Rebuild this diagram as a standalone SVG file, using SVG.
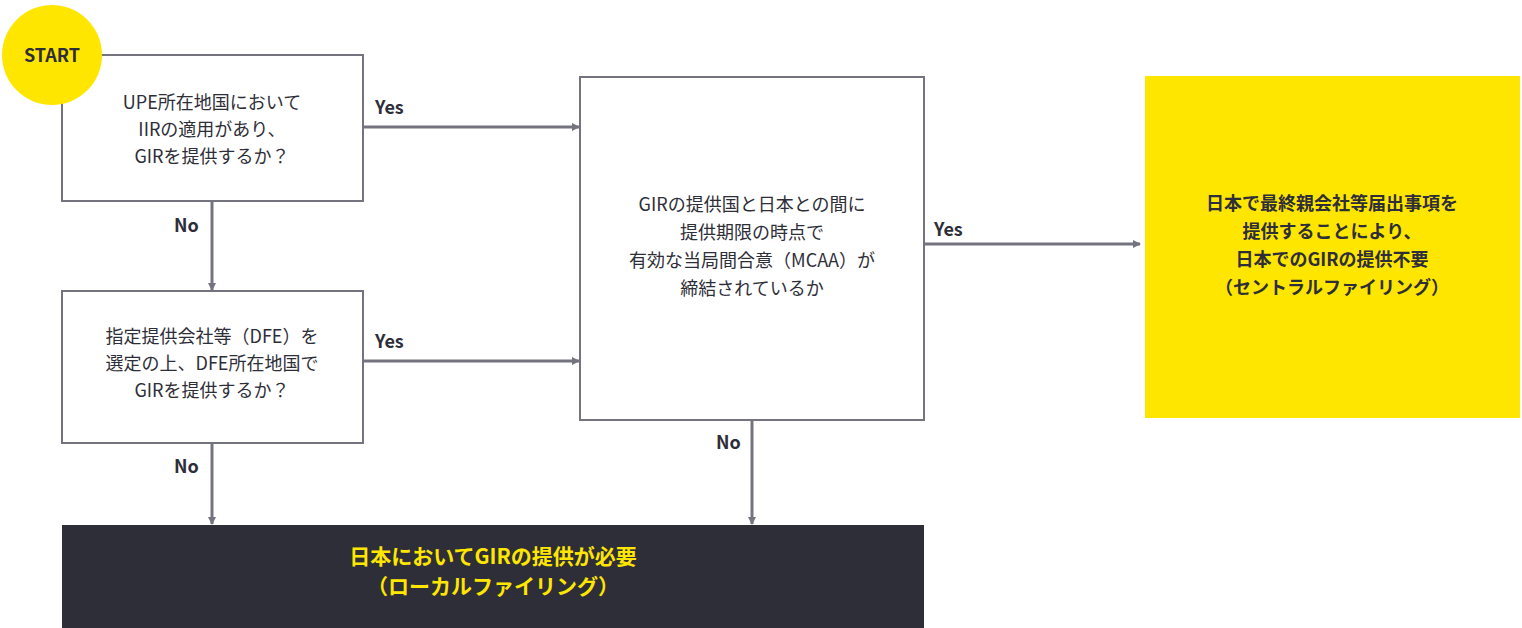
<svg xmlns="http://www.w3.org/2000/svg" width="1522" height="628" viewBox="0 0 1522 628">
<style>
text{font-family:"Noto Sans CJK JP","Noto Sans",sans-serif;font-size:18px;fill:#2e2e38;text-anchor:middle}
.b{font-weight:bold}
.box{fill:#fff;stroke:#747480;stroke-width:2}
.c{stroke:#747480;stroke-width:3;fill:none;marker-end:url(#a)}
.l{font-weight:bold;text-anchor:start}
</style>
<defs><marker id="a" markerWidth="8" markerHeight="8" refX="7" refY="4" orient="auto" markerUnits="userSpaceOnUse" viewBox="0 0 8 8"><path d="M0,0L8,4L0,8z" fill="#747480"/></marker>
</defs>
<g id="connectors">
<path class="c" d="M363,127H579"/>
<path class="c" d="M363,361H579"/>
<path class="c" d="M924,244H1140"/>
<path class="c" d="M212,201V290"/>
<path class="c" d="M212,443V524"/>
<path class="c" d="M752,420V524"/>
<text class="l" x="375" y="114">Yes</text>
<text class="l" x="375" y="348">Yes</text>
<text class="l" x="934" y="236">Yes</text>
<text class="l" x="174" y="232">No</text>
<text class="l" x="174" y="473">No</text>
<text class="l" x="716" y="449">No</text>
</g>
<g id="q1"><rect class="box" x="62" y="55" width="301" height="146"/>
<text x="212" y="109">UPE所在地国において</text><text x="212" y="136">IIRの適用があり、</text><text x="212" y="163">GIRを提供するか？</text></g>
<g id="start"><circle cx="52" cy="55" r="50" fill="#ffe600"/><text class="b" x="52" y="62">START</text></g>
<g id="q2"><rect class="box" x="62" y="291" width="301" height="152"/>
<text x="212" y="343">指定提供会社等（DFE）を</text><text x="212" y="370">選定の上、DFE所在地国で</text><text x="212" y="397">GIRを提供するか？</text></g>
<g id="q3"><rect class="box" x="580" y="77" width="344" height="343"/>
<text x="752" y="211">GIRの提供国と日本との間に</text><text x="752" y="239">提供期限の時点で</text><text x="752" y="267">有効な当局間合意（MCAA）が</text><text x="752" y="295">締結されているか</text></g>
<g id="central"><rect x="1145" y="76" width="375" height="342" fill="#ffe600"/>
<text class="b" x="1332" y="210">日本で最終親会社等届出事項を</text><text class="b" x="1332" y="238">提供することにより、</text><text class="b" x="1332" y="266">日本でのGIRの提供不要</text><text class="b" x="1332" y="294">（セントラルファイリング）</text></g>
<g id="local"><rect x="62" y="525" width="862" height="103" fill="#2e2e38"/>
<text class="b" x="493" y="564" style="fill:#ffe600;font-size:21px">日本においてGIRの提供が必要</text><text class="b" x="493" y="594" style="fill:#ffe600;font-size:21px">（ローカルファイリング）</text></g>
</svg>
